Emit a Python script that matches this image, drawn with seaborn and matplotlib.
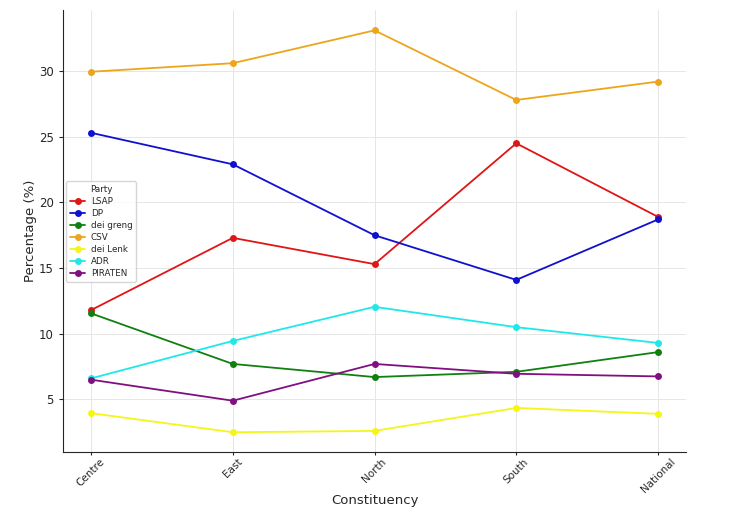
import matplotlib
matplotlib.use('Agg')
import matplotlib.pyplot as plt
import seaborn as sns
import pandas as pd

# ─── DATA ─────────────────────────────────────────────────────────────────────
constituencies = ['Centre', 'East', 'North', 'South', 'National']
parties = ['LSAP', 'DP', 'dei greng', 'CSV', 'dei Lenk', 'ADR', 'PIRATEN']

lsap     = [11.8, 17.3, 15.3, 24.5, 18.9]
dp       = [25.3, 22.9, 17.5, 14.1, 18.7]
greng    = [11.55, 7.7, 6.7, 7.1, 8.6]
csv      = [29.95, 30.6, 33.1, 27.8, 29.2]
lenk     = [3.95, 2.5, 2.6, 4.35, 3.9]
adr      = [6.6, 9.45, 12.05, 10.5, 9.3]
piraten  = [6.5, 4.9, 7.7, 6.95, 6.75]

colors = ['#e01515', '#1010d0', '#108010', '#eda51c', '#f5f51a', '#20e8e8', '#801080']

series = [lsap, dp, greng, csv, lenk, adr, piraten]
df = pd.DataFrame({
    'Constituency': constituencies * len(parties),
    'Party': [p for p in parties for _ in constituencies],
    'Percentage': [v for s in series for v in s],
})

# ─── PLOT ─────────────────────────────────────────────────────────────────────
sns.set_style('ticks')
fig, ax = plt.subplots(figsize=(7.38, 5.14), dpi=100)
fig.subplots_adjust(left=0.085, right=0.93, bottom=0.12, top=0.98)

sns.lineplot(data=df, x='Constituency', y='Percentage', hue='Party',
             hue_order=parties, palette=dict(zip(parties, colors)),
             marker='o', markersize=5, markeredgewidth=0, linewidth=1.3,
             sort=False, ax=ax)

ax.grid(True, color='#e6e6e6', linewidth=0.7)
ax.set_axisbelow(True)
sns.despine(ax=ax)
ax.set_xlabel('Constituency', fontsize=9.5, labelpad=0)
ax.set_ylabel('Percentage (%)', fontsize=9.5, labelpad=1)
ax.tick_params(axis='y', labelsize=8.5, length=3)
ax.tick_params(axis='x', labelsize=7.5, length=2, pad=1)
plt.setp(ax.get_xticklabels(), rotation=45)
ax.legend(title='Party', loc='center left', fontsize=6.3, title_fontsize=6.3,
          frameon=True, borderpad=0.4, labelspacing=0.35, handlelength=1.8,
          handletextpad=0.6, borderaxespad=0.4)

plt.savefig('out.png', dpi=100)
plt.close()
